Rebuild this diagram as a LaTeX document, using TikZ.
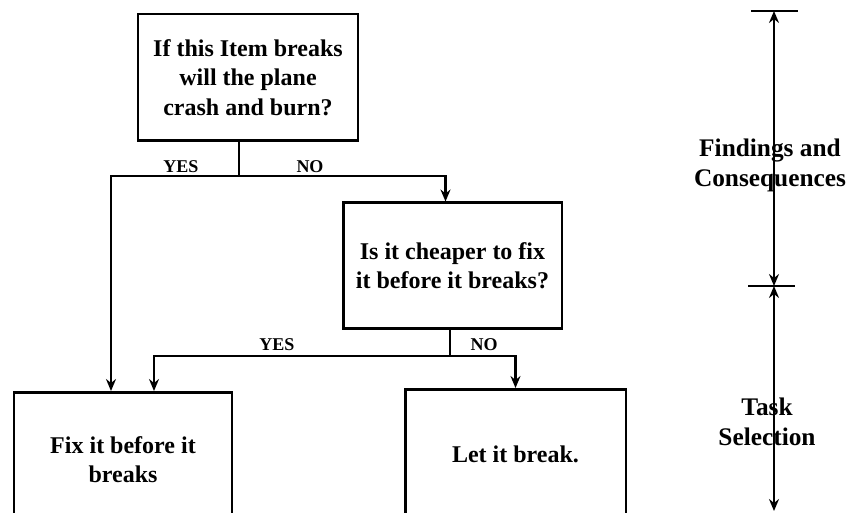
\documentclass[tikz,border=0pt]{standalone}
\usepackage{fontspec}
\setmainfont{Liberation Serif}
\usetikzlibrary{positioning,calc,arrows.meta}

\tikzset{
  decision/.style={draw, line width=2pt, align=center, inner sep=0pt,
    font=\bfseries\fontsize{18}{22}\selectfont},
  answer/.style={font=\bfseries\fontsize{13.5}{15}\selectfont, inner sep=0pt},
  side/.style={align=center, inner sep=0pt, font=\bfseries\fontsize{19}{22.5}\selectfont},
  link/.style={line width=1.6pt},
  arr/.style={link, -{Stealth[length=9pt,width=7.5pt,inset=3pt]}},
  span/.style={line width=1.5pt, {Stealth[length=9pt,width=7.5pt,inset=3pt]}-{Stealth[length=9pt,width=7.5pt,inset=3pt]}},
  bar/.style={line width=1.6pt}
}

\begin{document}
\begin{tikzpicture}[x=0.75pt,y=-0.75pt]
  \useasboundingbox (0,0) rectangle (853,513);
  \clip (0,0) rectangle (853,513);

  % Decision boxes
  \node[decision, minimum width=165pt, minimum height=95pt] (crash) at (248,77.5)
    {If this Item breaks\\will the plane\\crash and burn?};
  \node[decision, minimum width=164pt, minimum height=94pt] (cheap) at (452.5,265.5)
    {Is it cheaper to fix\\it before it breaks?};

  % Outcome boxes (run off the bottom)
  \node[decision, minimum width=163.5pt, minimum height=100.5pt, anchor=north] (fix) at (123,391)
    {Fix it before it\\breaks};
  \node[decision, minimum width=165.5pt, minimum height=97.5pt, anchor=north] (let) at (515.5,388)
    {Let it break.};

  % First split
  \coordinate (split1) at (239,176);
  \draw[link] (crash.south -| split1) -- (split1);
  \draw[arr] (split1) -| ($(fix.north)+(-12,0)$);
  \draw[arr] (split1) -| ($(cheap.north)+(-7,0)$);
  \node[answer] (yes1) at (181,167) {YES};
  \node[answer] (no1) at (310,167) {NO};

  % Second split
  \coordinate (split2) at (450,356);
  \draw[link] (cheap.south -| split2) -- (split2);
  \draw[arr] (split2) -| ($(fix.north)+(31,0)$);
  \draw[arr] (split2) -| (let.north);
  \node[answer] (yes2) at (277,345) {YES};
  \node[answer] (no2) at (484,345) {NO};

  % Phases on the right
  \coordinate (ptop) at (774,11);
  \coordinate (pmid) at (774,286);
  \coordinate (pbot) at (774,511);
  \draw[bar] ($(ptop)+(-23,0)$) -- ($(ptop)+(24,0)$);
  \draw[bar] ($(pmid)+(-26,0)$) -- ($(pmid)+(21,0)$);
  \draw[span] (ptop) -- (pmid);
  \draw[span] (pmid) -- (pbot);
  \node[side] (findings) at (770,165) {Findings and\\Consequences};
  \node[side] (task) at (767,422) {Task\\Selection};
\end{tikzpicture}
\end{document}
